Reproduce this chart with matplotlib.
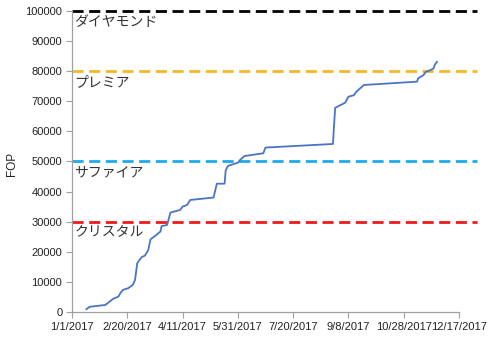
import matplotlib
matplotlib.use("Agg")
import matplotlib.pyplot as plt
import matplotlib.dates as mdates
import pandas as pd

plt.rcParams['font.family'] = ['Liberation Sans', 'Noto Sans CJK JP', 'DejaVu Sans']

# FOP progress over 2017
dates = ["2017-01-14", "2017-01-17", "2017-01-31", "2017-02-04", "2017-02-07",
         "2017-02-12", "2017-02-14", "2017-02-16", "2017-02-21", "2017-02-25",
         "2017-02-27", "2017-03-01", "2017-03-05", "2017-03-08", "2017-03-11",
         "2017-03-13", "2017-03-17", "2017-03-22", "2017-03-23", "2017-03-28",
         "2017-03-31", "2017-04-09", "2017-04-11", "2017-04-15", "2017-04-18",
         "2017-05-09", "2017-05-12", "2017-05-19", "2017-05-20", "2017-05-22",
         "2017-05-31", "2017-06-02", "2017-06-06", "2017-06-23", "2017-06-25",
         "2017-08-25", "2017-08-26", "2017-08-27", "2017-09-05", "2017-09-08",
         "2017-09-13", "2017-09-15", "2017-09-22", "2017-11-09", "2017-11-10",
         "2017-11-15", "2017-11-17", "2017-11-21", "2017-11-24", "2017-11-25",
         "2017-11-27"]
fop = [900, 1700, 2300, 3400, 4300,
       5100, 6400, 7300, 7900, 9000,
       10600, 16200, 18200, 18700, 20600,
       24100, 25200, 26700, 28500, 28900,
       33000, 33900, 35000, 35500, 37200,
       38000, 42600, 42600, 47000, 48500,
       49600, 50500, 51800, 52700, 54600,
       55800, 62000, 67800, 69500, 71500,
       72000, 73100, 75400, 76500, 77600,
       78700, 79800, 80300, 80900, 82000,
       83100]

# Status thresholds
level_names = ["ダイヤモンド", "プレミア", "サファイア", "クリスタル"]
level_values = [100000, 80000, 50000, 30000]
level_colors = ["#000000", "#F5B829", "#1DAAE8", "#F01A1A"]

x_ticks = pd.date_range("2017-01-01", periods=8, freq="50D")
y_ticks = list(range(0, 100001, 10000))

fig = plt.figure(figsize=(5.0, 3.42), dpi=100)
ax = fig.add_axes([0.144, 0.088, 0.774, 0.880])

x = pd.to_datetime(dates)
ax.plot(x, fop, color="#4A74C4", linewidth=1.3, zorder=3)

line_start = pd.Timestamp("2017-01-01")
line_end = pd.Timestamp("2018-01-02")
label_x = pd.Timestamp("2017-01-03")
for name, val, col in zip(level_names, level_values, level_colors):
    ax.plot([line_start, line_end], [val, val], color=col, linewidth=2.0,
            linestyle=(0, (4, 2)), clip_on=False, zorder=2)
    ax.text(label_x, val - 3600, name, fontsize=10, color="#333333",
            va="center", ha="left", family=['Noto Sans CJK JP', 'DejaVu Sans'])

ax.set_xlim(x_ticks[0], x_ticks[-1])
ax.set_ylim(0, 100000)
ax.set_xticks(x_ticks)
ax.set_xticklabels([f"{d.month}/{d.day}/{d.year}" for d in x_ticks])
ax.set_yticks(y_ticks)
ax.set_yticklabels([str(v) for v in y_ticks])

for side in ("top", "right"):
    ax.spines[side].set_visible(False)
for side in ("left", "bottom"):
    ax.spines[side].set_color("#A0A0A0")
    ax.spines[side].set_linewidth(0.9)
ax.tick_params(axis="both", direction="out", length=4, color="#A0A0A0",
               labelsize=8, labelcolor="#222222")
ax.tick_params(axis="x", pad=3)
ax.tick_params(axis="y", pad=3)

fig.text(0.024, 0.52, "FOP", rotation=90, fontsize=8.5, color="#222222",
         va="center", ha="center")

fig.savefig("out.png", dpi=100)
